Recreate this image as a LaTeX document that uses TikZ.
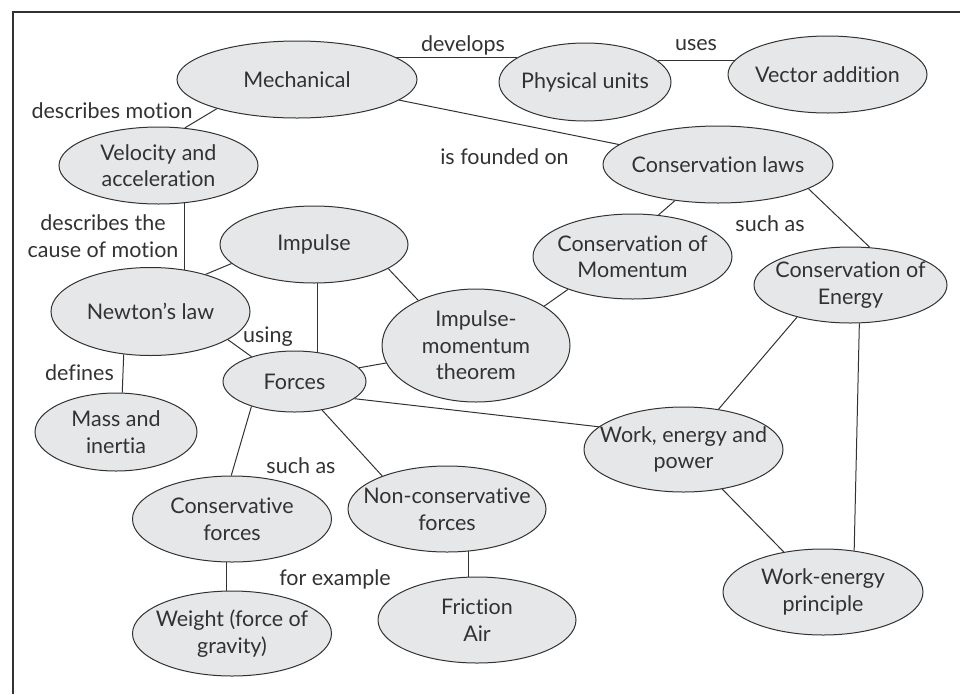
\documentclass[tikz,border=0pt]{standalone}
\usepackage{fontspec}
\setmainfont{Lato}[Ligatures=NoCommon]
\usepackage{xcolor}
\usepackage{tikz}
\usetikzlibrary{positioning,shapes.geometric,backgrounds}
\definecolor{ovalfill}{RGB}{230,231,232}
\definecolor{inkgray}{RGB}{50,50,50}

\begin{document}
\begin{tikzpicture}[x=1pt,y=-1pt,every node/.style={font=\fontsize{21.5}{26.5}\selectfont,text=inkgray},
  concept/.style={ellipse,draw=inkgray,fill=ovalfill,line width=1pt,inner sep=-20pt,align=center},
  sz/.style 2 args={minimum width=#1pt,minimum height=#2pt},
  link/.style={draw=inkgray,line width=1pt}]
  \useasboundingbox (0,0) rectangle (960,694);
  % frame, cut off at right and bottom
  \draw[inkgray,line width=1.4pt] (13,694) -- (13,12) -- (960,12);

  \node[concept,sz={240}{77}] (mech) at (297,79.5) {Mechanical};
  \node[concept,sz={172}{78}] (units) at (585,82) {Physical units};
  \node[concept,sz={199}{77}] (vector) at (827.5,74.5) {Vector addition};
  \node[concept,sz={199}{77}] (velocity) at (158.5,165.5) {Velocity and\\acceleration};
  \node[concept,sz={230}{77}] (laws) at (718,164.5) {Conservation laws};
  \node[concept,sz={188}{77}] (impulse) at (314,244.5) {Impulse};
  \node[concept,sz={199}{88}] (newton) at (150.5,311.5) {Newton’s law};
  \node[concept,sz={199}{85}] (consmom) at (632.5,256.5) {Conservation of\\Momentum};
  \node[concept,sz={193}{76}] (consen) at (850.5,285) {Conservation of\\Energy};
  \node[concept,sz={188}{113}] (imt) at (476,345.5) {Impulse-\\momentum\\theorem};
  \node[concept,sz={143}{61}] (forces) at (294.5,381.5) {Forces};
  \node[concept,sz={162}{78}] (mass) at (116,432) {Mass and\\inertia};
  \node[concept,sz={199}{85}] (work) at (683.5,449.5) {Work, energy and\\power};
  \node[concept,sz={199}{86}] (consf) at (232,519) {Conservative\\forces};
  \node[concept,sz={198}{86}] (nonconsf) at (447,509) {Non-conservative\\forces};
  \node[concept,sz={200}{86}] (principle) at (823,592) {Work-energy\\principle};
  \node[concept,sz={199}{85}] (weight) at (232,633.5) {Weight (force of\\gravity)};
  \node[concept,sz={198}{86}] (friction) at (477,620) {Friction\\Air};

  \begin{scope}[on background layer]
    \draw[link] (units.160) -- (units.160 -| mech.center);
    \draw[link] (units.16) -- (units.16 -| vector.center);
    \draw[link] (mech) -- (laws);
    \draw[link] (mech.200) -- (velocity.55);
    \draw[link] (newton.51) -- (newton.51 |- velocity.center);
    \draw[link] (newton.34) -- (impulse.193);
    \draw[link] (newton.340) -- (forces.150);
    \draw[link] (newton.238) -- (mass.81);
    \draw[link] (forces.52) -- (forces.52 |- impulse.center);
    \draw[link] (impulse.342) -- (imt.142);
    \draw[link] (forces.12) -- (imt.191);
    \draw[link] (imt.30) -- (consmom.207);
    \draw[link] (laws.220) -- (consmom.58);
    \draw[link] (laws.345) -- (consen.63);
    \draw[link] (consen.211) -- (work.49);
    \draw[link] (consen.283) -- (principle.53);
    \draw[link] (work) -- (principle);
    \draw[link] (forces.344) -- (work.165);
    \draw[link] (forces.210) -- (consf.91);
    \draw[link] (forces.314) -- (nonconsf.153);
    \draw[link] (weight.97) -- (weight.97 |- consf.center);
    \draw[link] (friction.101) -- (friction.101 |- nonconsf.center);
  \end{scope}

  \node (develops) at (463,45) {develops};
  \node (uses) at (696,45) {uses};
  \node (descmotion) at (112,111) {describes motion};
  \node (founded) at (504.5,157) {is founded on};
  \node[align=center] (cause) at (103,236) {describes the\\cause of motion};
  \node (using) at (268,337) {using};
  \node (suchas) at (770,224) {such as};
  \node (defines) at (79.5,373) {defines};
  \node (suchasf) at (301,466) {such as};
  \node (example) at (335,579) {for example};
\end{tikzpicture}
\end{document}
